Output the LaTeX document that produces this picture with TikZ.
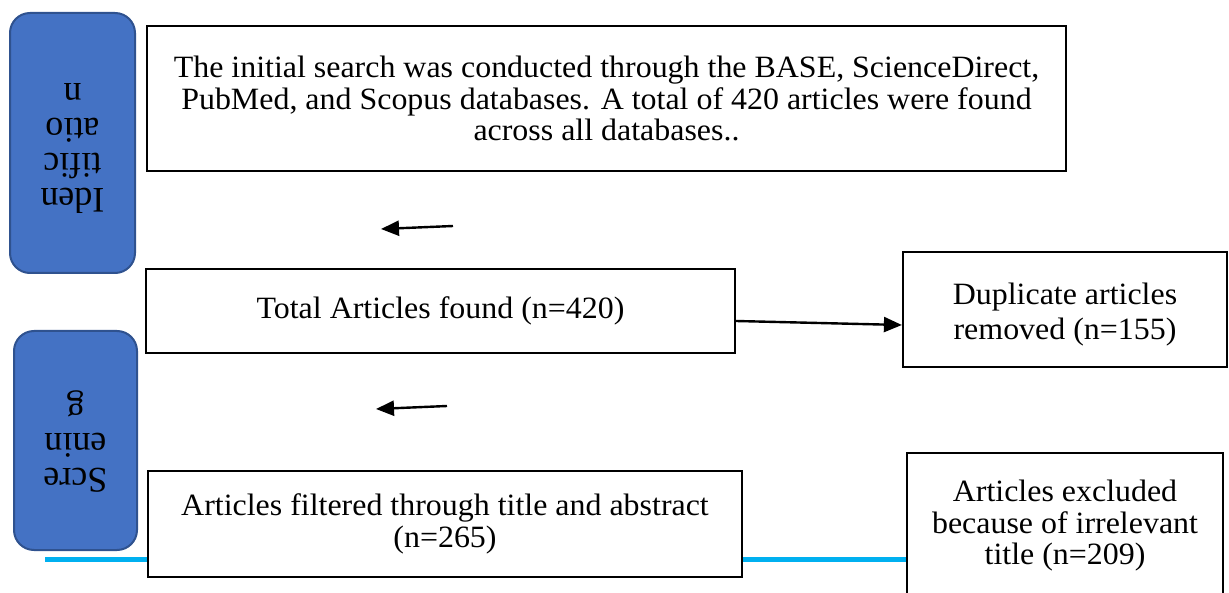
\documentclass[tikz,border=0pt]{standalone}
\usepackage{fontspec}
\setmainfont{Liberation Serif}
\newfontfamily\bodyfont[FakeStretch=1.03]{Liberation Serif}
\usetikzlibrary{arrows.meta}
\definecolor{phasefill}{HTML}{4472C4}
\definecolor{phaseedge}{HTML}{2F528F}
\definecolor{rulecyan}{HTML}{00B0F0}
\begin{document}
\begin{tikzpicture}[x=1pt,y=-1pt,
  box/.style={draw=black, line width=2.2pt, fill=white, inner sep=0pt},
  txt/.style={inner sep=0pt, align=center, font=\bodyfont\fontsize{31}{31.5}\selectfont},
  phase/.style={draw=phaseedge, fill=phasefill, line width=2pt, rounded corners=20pt,
    inner sep=0pt, align=center, font=\fontsize{36}{37}\selectfont},
  arr/.style={draw=black, line width=2.4pt, -{Triangle[length=18pt,width=15pt]}},
  cyanrule/.style={draw=rulecyan, line width=5pt}]
\useasboundingbox (0,0) rectangle (1229,593);

% horizontal rule behind the lower boxes
\coordinate (rulestart) at (45,559);

% phase labels, set upside down
\node[phase, minimum width=125pt, minimum height=260pt] (ident) at (72.5,143)
  {\rotatebox{180}{\begin{tabular}{@{}c@{}}Iden\\[-2pt]tific\\[-2pt]atio\\[-2pt]n\end{tabular}}};
\node[phase, minimum width=123pt, minimum height=219pt] (screen) at (75.5,440.5)
  {\rotatebox{180}{\begin{tabular}{@{}c@{}}Scre\\[-2pt]enin\\[-2pt]g\end{tabular}}};

% excluded box (runs off the bottom edge of the page)
\node[box, minimum width=316pt, minimum height=170pt, anchor=north] (excl) at (1065,452) {};
\draw[cyanrule] (rulestart) -- (rulestart -| excl.west);
\node[txt] (excltext) at (1065,526)
  {Articles excluded\\because of irrelevant\\title (n=209)};

% main flow boxes
\node[box, minimum width=919pt, minimum height=145pt] (search) at (606.5,98.5) {};
\node[txt] (searchtext) at (search.center)
  {The initial search was conducted through the BASE, ScienceDirect,\\
   PubMed, and Scopus databases. A total of 420 articles were found\\
   across all databases..};
\node[box, minimum width=589pt, minimum height=84pt] (total) at (440.5,311) {};
\node[txt] (totaltext) at (total.center) {Total Articles found (n=420)};
\node[box, minimum width=324pt, minimum height=115pt] (dup) at (1065,309.5) {};
\node[txt, font=\bodyfont\fontsize{31}{35}\selectfont] (duptext) at (1065,315)
  {Duplicate articles\\removed (n=155)};
\node[box, minimum width=594pt, minimum height=106pt] (filt) at (445,524) {};
\node[txt] (filttext) at (filt.center)
  {Articles filtered through title and abstract\\(n=265)};

% connectors
\coordinate (a1s) at (453,226);
\coordinate (a1e) at (381,229);
\draw[arr] (a1s) -- (a1e);
\coordinate (a2s) at (447,406);
\coordinate (a2e) at (376,409);
\draw[arr] (a2s) -- (a2e);
\draw[arr] ([yshift=-10pt]total.east) -- ([yshift=-15.5pt]dup.west);
\end{tikzpicture}
\end{document}
